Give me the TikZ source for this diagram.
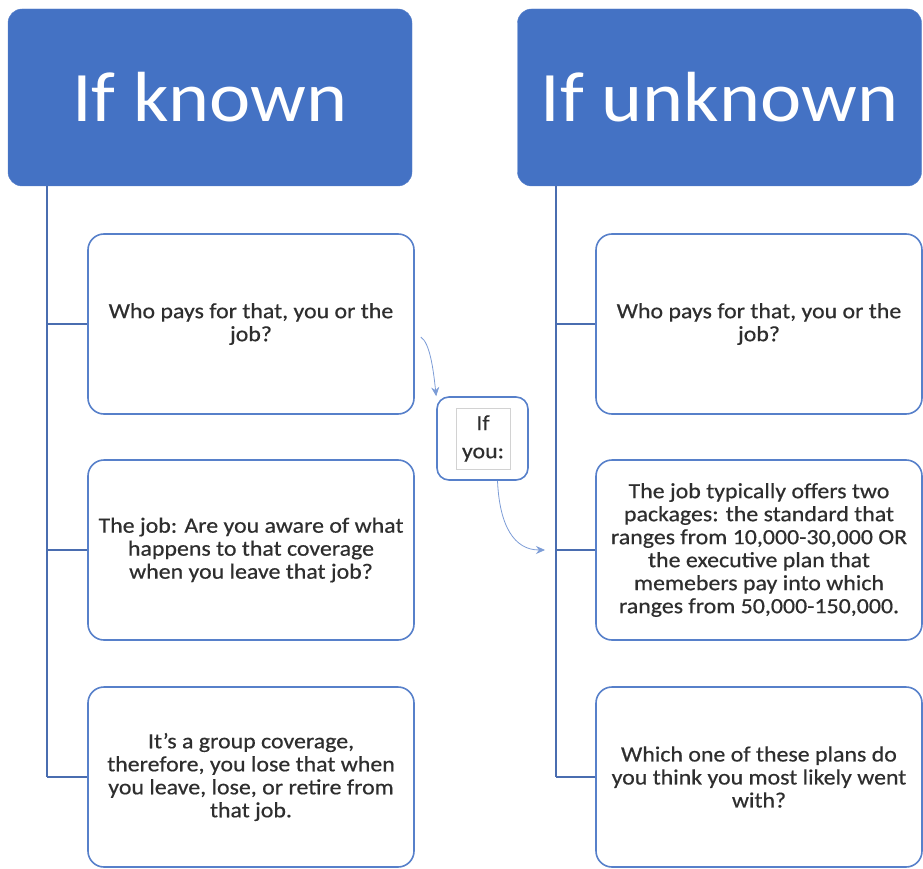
\documentclass[tikz,border=0pt]{standalone}
\usepackage{fontspec}
\setmainfont{Carlito}[FakeStretch=1.1,FakeBold=0.5]
\newfontfamily\headfont{Carlito}[FakeStretch=1.1]
\usetikzlibrary{positioning,arrows.meta}
\definecolor{officeblue}{HTML}{4472C4}
\definecolor{spineblue}{HTML}{4A6DB0}
\definecolor{textgray}{HTML}{2E2E2E}
\tikzset{
  head/.style={fill=officeblue, draw=officeblue!90!white, rounded corners=14pt,
    minimum width=404pt, minimum height=177pt, text=white, inner sep=0pt,
    font=\headfont\fontsize{71}{80}\selectfont},
  leaf/.style={draw=officeblue!90!white, line width=1.6pt, rounded corners=16pt,
    fill=white, minimum width=326pt, minimum height=180pt, align=center,
    text=textgray, inner sep=0pt, font=\fontsize{21.7}{23}\selectfont},
  youbox/.style={draw=officeblue!90!white, line width=1.6pt, rounded corners=12pt,
    minimum width=91pt, minimum height=83pt},
  inbox/.style={draw=gray!35, line width=0.6pt, minimum width=54pt,
    minimum height=61pt, align=center, text=textgray, inner sep=0pt,
    font=\fontsize{21.7}{28}\selectfont},
  spine/.style={draw=spineblue, line width=1.8pt},
  flow/.style={draw=officeblue!70!white, line width=0.8pt,
    -{Stealth[length=9pt,width=8pt]}},
}
\begin{document}
\begin{tikzpicture}[x=1pt,y=-1pt]
\useasboundingbox (0,0) rectangle (923,869);
% headers
\node[head] (kh) at (210,97.5) {If known};
\node[head] (uh) at (719.5,97.5) {If unknown};
% left column
\node[leaf] (k1) at (251,324) {Who pays for that, you or the\\job?};
\node[leaf] (k2) at (251,550) {The job: Are you aware of what\\happens to that coverage\\when you leave that job?};
\node[leaf] (k3) at (251,777) {It's a group coverage,\\therefore, you lose that when\\you leave, lose, or retire from\\that job.};
% right column
\node[leaf] (u1) at (759,324) {Who pays for that, you or the\\job?};
\node[leaf] (u2) at (759,550) {The job typically offers two\\packages: the standard that\\ranges from 10,000-30,000 OR\\the executive plan that\\memebers pay into which\\ranges from 50,000-150,000.};
\node[leaf] (u3) at (759,777) {Which one of these plans do\\you think you most likely went\\with?};
% spines
\coordinate (kx) at (47,0);
\coordinate (ux) at (556,0);
\draw[spine] (kh.south -| kx) -- (k3.west -| kx);
\draw[spine] (uh.south -| ux) -- (u3.west -| ux);
\foreach \b in {k1,k2,k3} \draw[spine] (\b.west -| kx) -- (\b.west);
\foreach \b in {u1,u2,u3} \draw[spine] (\b.west -| ux) -- (\b.west);
% middle box
\node[youbox] (ify) at (482.5,438.5) {};
\node[inbox] (ifyin) at (483,438.5) {If\\you:};
\coordinate (uj2) at (u2.west -| ux);
\draw[flow] ([shift={(6,13)}]k1.east) .. controls +(9,6) and +(-3,-28) .. (ify.north west);
\draw[flow] ([shift={(15,0)}]ify.south) .. controls +(2,45) and +(-31,0) .. ([xshift=-11pt]uj2);
\end{tikzpicture}
\end{document}
